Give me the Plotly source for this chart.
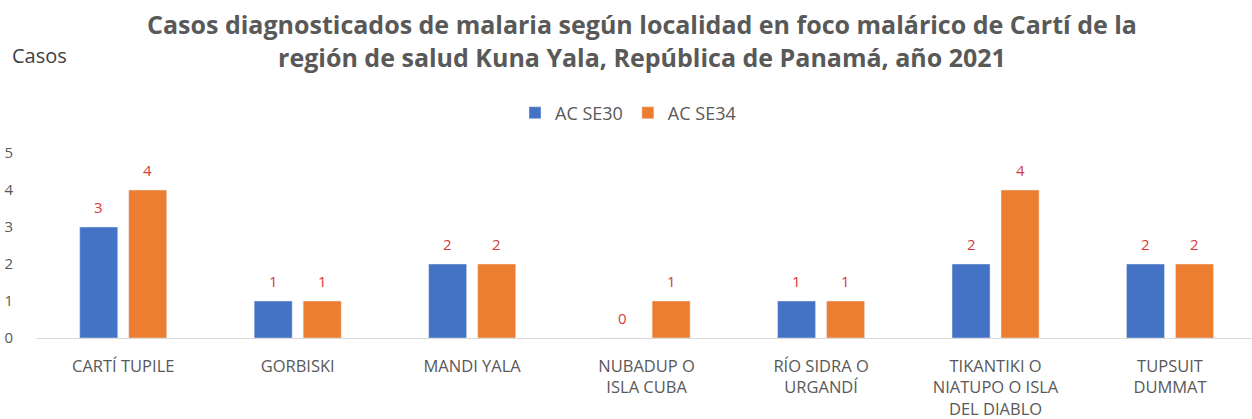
import plotly.graph_objects as go

categories = ["CARTÍ TUPILE", "GORBISKI", "MANDI YALA", "NUBADUP O<br>ISLA CUBA",
              "RÍO SIDRA O<br>URGANDÍ", "TIKANTIKI O<br>NIATUPO O ISLA<br>DEL DIABLO",
              "TUPSUIT<br>DUMMAT"]
se30 = [3, 1, 2, 0, 1, 2, 2]
se34 = [4, 1, 2, 1, 1, 4, 2]
series_names = ["AC SE30", "AC SE34"]
colors = ["#4472C4", "#ED7D31"]
label_color = "#D63B3B"

W, H = 1252, 419
ml, mr, mt, mb = 36, 0, 153, 81
pw = W - ml - mr
ph = H - mt - mb
x_range = [-0.5, 6.47]
bargap, bargroupgap = 0.438, 0.224
cat_px = pw / (x_range[1] - x_range[0])
slot_px = (1 - bargap) * cat_px / 2

fig = go.Figure()
annotations = []
for i, (name, vals, col) in enumerate(zip(series_names, [se30, se34], colors)):
    fig.add_trace(go.Bar(x=categories, y=vals, name=name, marker_color=col))
    for c, v in zip(categories, vals):
        annotations.append(dict(
            x=c, y=v, xref="x", yref="y", text=str(v), showarrow=False,
            xshift=(i - 0.5) * slot_px, yshift=20, yanchor="middle",
            font=dict(size=15, color=label_color, family="Open Sans"),
        ))

annotations.append(dict(
    text="Casos", xref="paper", yref="paper",
    x=(10 - ml) / pw, xanchor="left", y=1 + (mt - 55) / ph, yanchor="middle",
    showarrow=False, font=dict(size=20, color="#404040", family="Open Sans"),
))

fig.update_layout(
    width=W, height=H,
    margin=dict(l=ml, r=mr, t=mt, b=mb, autoexpand=False),
    paper_bgcolor="white", plot_bgcolor="white",
    barmode="group", bargap=bargap, bargroupgap=bargroupgap,
    font=dict(family="Open Sans", color="#595959"),
    title=dict(
        text="Casos diagnosticados de malaria según localidad en foco malárico de Cartí de la<br>región de salud Kuna Yala, República de Panamá, año 2021",
        x=642 / W, xref="container", xanchor="center",
        y=1 - 34 / H, yref="container", yanchor="middle",
        font=dict(family="Open Sans", size=25, color="#595959", weight="bold"),
    ),
    legend=dict(
        orientation="h", x=(628 - ml) / pw, xanchor="center",
        y=1 + (mt - 113) / ph, yanchor="middle",
        font=dict(size=18, color="#595959"),
        itemwidth=30, traceorder="normal",
    ),
    showlegend=True,
    annotations=annotations,
)
fig.update_xaxes(
    range=x_range, showline=True, linecolor="#D9D9D9", linewidth=1, automargin=False,
    ticks="", tickfont=dict(size=16.5, color="#595959"), ticklabelstandoff=13,
)
fig.update_yaxes(
    range=[0, 5], dtick=1, showgrid=False, zeroline=False, showline=False, automargin=False,
    tickfont=dict(size=15, color="#595959"), ticklabelstandoff=22,
)

# remove the default 8px page margin so the figure fills the window exactly
fig.write_html("out.html", config={"displayModeBar": False},
               post_script="document.body.style.margin='0';")
